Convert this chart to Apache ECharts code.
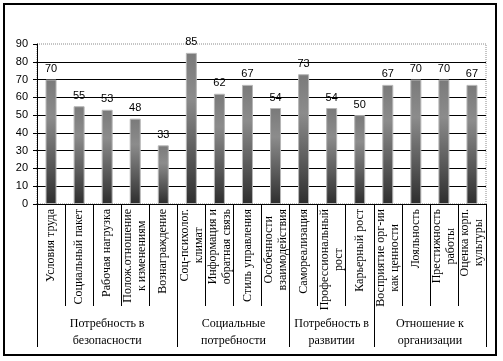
<!DOCTYPE html>
<html>
<head>
<meta charset="utf-8">
<script src="https://cdn.jsdelivr.net/npm/echarts@6/dist/echarts.min.js"></script>
<style>
html,body{margin:0;padding:0;background:#fff;}
#c{width:503px;height:361px;}
</style>
</head>
<body>
<div id="c"></div>
<script>
const categories = [
  'Условия труда',
  'Социальный пакет',
  'Рабочая нагрузка',
  'Полож.отношение\nк изменениям',
  'Вознаграждение',
  'Соц-психолог.\nклимат',
  'Информация и\nобратная связь',
  'Стиль управления',
  'Особенности\nвзаимодействия',
  'Самореализация',
  'Профессиональный\nрост',
  'Карьерный рост',
  'Восприятие орг-ии\nкак ценности',
  'Лояльность',
  'Престижность\nработы',
  'Оценка корп.\nкультуры'
];
const values = [70, 55, 53, 48, 33, 85, 62, 67, 54, 73, 54, 50, 67, 70, 70, 67];
const groupNames = [
  'Потребность в\nбезопасности',
  'Социальные\nпотребности',
  'Потребность в\nразвитии',
  'Отношение к\nорганизации'
];
const groupSizes = [5, 4, 3, 4];
const yTicks = { min: 0, max: 90, interval: 10 };

// group boundaries and centres on a 0..N scale
const boundaries = [0];
const centres = [];
groupSizes.forEach(function (s) {
  const start = boundaries[boundaries.length - 1];
  centres.push(start + s / 2);
  boundaries.push(start + s);
});

const chart = echarts.init(document.getElementById('c'), null, { renderer: 'canvas' });
const serif = '"Liberation Serif", "Times New Roman", serif';
const sans = '"Liberation Sans", Arial, sans-serif';

chart.setOption({
  animation: false,
  backgroundColor: '#fff',
  graphic: [{
    type: 'rect', silent: true, z: -10,
    shape: { x: 4, y: 4, width: 492, height: 351 },
    style: { fill: null, stroke: '#000', lineWidth: 2 }
  }],
  grid: {
    left: 37, right: 17, top: 44, bottom: 157,
    show: true, borderColor: '#8a8a8a', borderWidth: 1, borderType: 'dotted',
    backgroundColor: 'transparent'
  },
  xAxis: [{
    type: 'category',
    data: categories,
    boundaryGap: true,
    axisLine: { show: true, lineStyle: { color: '#000', width: 1 } },
    axisTick: { show: true, interval: 0, length: 102, lineStyle: { color: '#000', width: 1 } },
    axisLabel: {
      interval: 0, rotate: 90, margin: 5,
      color: '#000', fontFamily: serif, fontSize: 12, lineHeight: 14,
      formatter: function (v) {
        return v.split('\n').map(function (l) { return '{c|' + l + '}'; }).join('\n');
      },
      rich: { c: { align: 'center', fontFamily: serif, fontSize: 12, lineHeight: 14, color: '#000' } }
    },
    splitLine: { show: false }
  }, {
    type: 'value',
    position: 'bottom',
    min: 0, max: categories.length,
    axisLine: { show: false },
    splitLine: { show: false },
    axisTick: { show: true, customValues: boundaries, length: 143, lineStyle: { color: '#000', width: 1 } },
    axisLabel: {
      customValues: centres, margin: 111,
      color: '#000', fontFamily: serif, fontSize: 12, lineHeight: 17, align: 'center',
      formatter: function (v) {
        const i = centres.indexOf(v);
        return i >= 0 ? groupNames[i] : '';
      }
    }
  }],
  yAxis: {
    type: 'value',
    min: yTicks.min, max: yTicks.max, interval: yTicks.interval,
    axisLine: { show: true, lineStyle: { color: '#000', width: 1 } },
    axisTick: { show: true, length: 4, lineStyle: { color: '#000' } },
    axisLabel: { color: '#000', fontFamily: sans, fontSize: 11, margin: 9 },
    splitLine: { show: true, showMaxLine: false, lineStyle: { color: '#000', width: 1 } }
  },
  series: [{
    type: 'bar',
    xAxisIndex: 0,
    data: values,
    barWidth: 11,
    itemStyle: {
      color: new echarts.graphic.LinearGradient(0, 0, 0, 1, [
        { offset: 0, color: '#7a7a7a' },
        { offset: 0.3, color: '#8c8c8c' },
        { offset: 1, color: '#2e2e2e' }
      ]),
      borderColor: '#b5b5b5',
      borderWidth: 1
    },
    label: {
      show: true, position: 'top', distance: 5,
      color: '#000', fontFamily: sans, fontSize: 11
    }
  }]
});
</script>
</body>
</html>
